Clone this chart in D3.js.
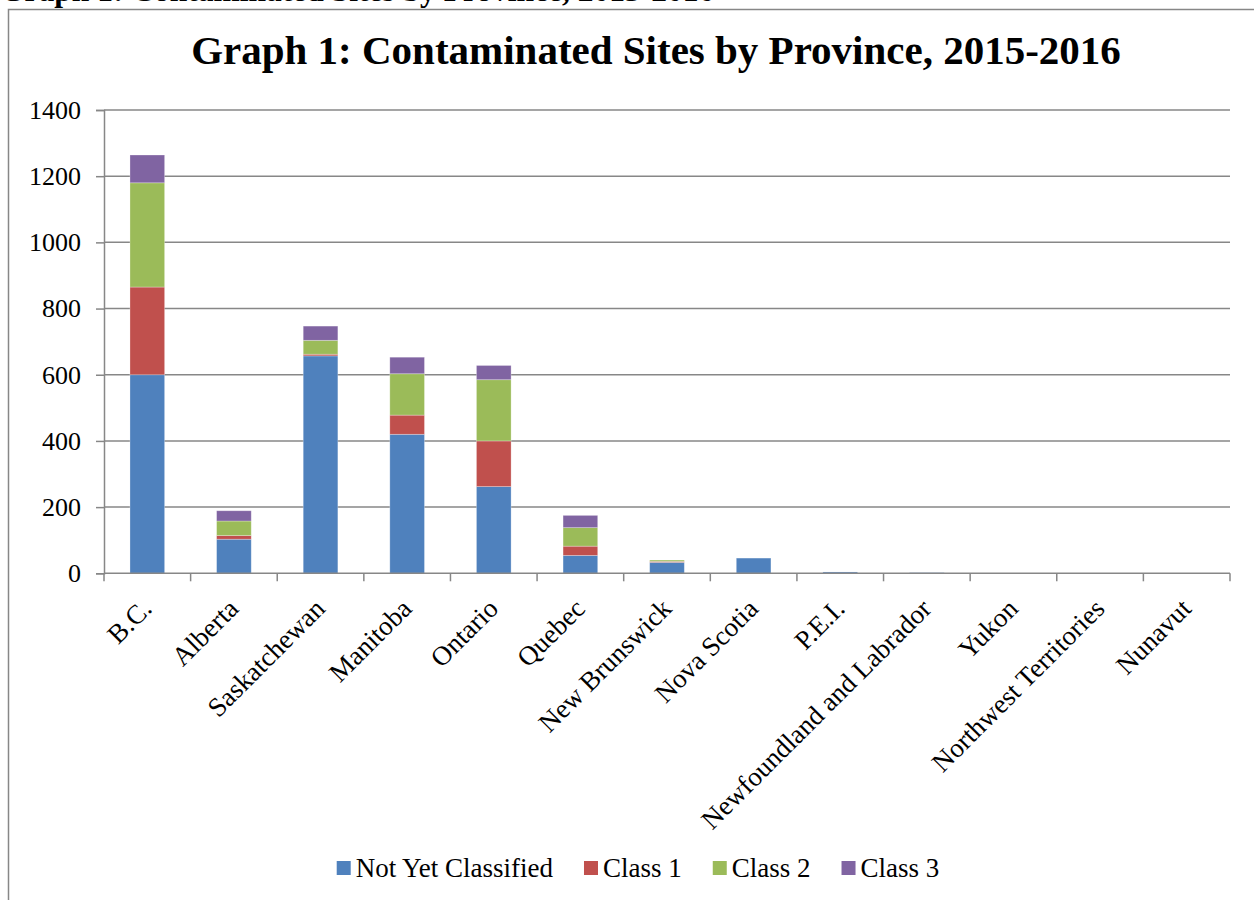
<!DOCTYPE html>
<html>
<head>
<meta charset="utf-8">
<script src="https://cdn.jsdelivr.net/npm/d3@7"></script>
<style>
  html, body { margin: 0; padding: 0; background: #fff; }
  svg { display: block; font-family: 'Liberation Serif', 'Times New Roman', serif; }
</style>
</head>
<body>
<svg id="chart"></svg>
<script>
const provinces = [
  'B.C.', 'Alberta', 'Saskatchewan', 'Manitoba', 'Ontario', 'Quebec', 'New Brunswick',
  'Nova Scotia', 'P.E.I.', 'Newfoundland and Labrador', 'Yukon', 'Northwest Territories', 'Nunavut',
]
const notYetClassified = [600, 103, 657, 420, 262, 54, 33, 46, 4, 2, 0, 0, 0]
const class1 = [265, 11, 5, 58, 138, 28, 3, 0, 0, 0, 0, 0, 0]
const class2 = [315, 44, 42, 125, 185, 56, 4, 0, 0, 0, 0, 0, 0]
const class3 = [84, 31, 43, 50, 43, 37, 0, 0, 0, 0, 0, 0, 0]
const seriesNames = ['Not Yet Classified', 'Class 1', 'Class 2', 'Class 3']
const yTicks = [0, 200, 400, 600, 800, 1000, 1200, 1400]
const title = 'Graph 1: Contaminated Sites by Province, 2015-2016'

const width = 1254
const height = 900
const colors = ['#4f81bd', '#c0504d', '#9bbb59', '#8064a2']
const gridColor = '#878787'

// plot area, in page pixels
const plot = { left: 104, right: 1230, top: 110, bottom: 573.3 }

const rows = provinces.map((name, i) => ({
  name,
  'Not Yet Classified': notYetClassified[i],
  'Class 1': class1[i],
  'Class 2': class2[i],
  'Class 3': class3[i],
}))

const svg = d3.select('#chart').attr('width', width).attr('height', height)

// page heading above the chart frame, mostly scrolled off
svg
  .append('text')
  .attr('x', 0)
  .attr('y', 1)
  .style('font-size', '31.5px')
  .style('font-weight', 'bold')
  .text(title)

// chart frame
svg
  .append('rect')
  .attr('x', 8.5)
  .attr('y', 9.5)
  .attr('width', 1270)
  .attr('height', 920)
  .attr('fill', '#fff')
  .attr('stroke', gridColor)
  .attr('stroke-width', 1.5)

svg
  .append('text')
  .attr('x', 656)
  .attr('y', 64)
  .attr('text-anchor', 'middle')
  .style('font-size', '41px')
  .style('font-weight', 'bold')
  .text(title)

const x = d3
  .scaleBand()
  .domain(provinces)
  .range([plot.left, plot.right])
  .paddingInner(0.6)
  .paddingOuter(0.3)

const y = d3.scaleLinear().domain([0, 1400]).range([plot.bottom, plot.top])

// gridlines
svg
  .append('g')
  .selectAll('line')
  .data(yTicks.slice(1))
  .join('line')
  .attr('x1', plot.left)
  .attr('x2', plot.right)
  .attr('y1', (d) => y(d))
  .attr('y2', (d) => y(d))
  .attr('stroke', gridColor)
  .attr('stroke-width', 1.5)

// y axis
const yAxis = svg
  .append('g')
  .attr('transform', `translate(${plot.left},0)`)
  .call(d3.axisLeft(y).tickValues(yTicks).tickSize(8).tickPadding(15).tickFormat(d3.format('d')))

yAxis.select('.domain').attr('stroke', gridColor).attr('stroke-width', 1.5)
yAxis.selectAll('.tick line').attr('stroke', gridColor).attr('stroke-width', 1.5)
yAxis
  .selectAll('.tick text')
  .attr('fill', '#000')
  .style('font-size', '26px')
  .style('font-family', "'Liberation Serif', 'Times New Roman', serif")

// stacked bars
const stacked = d3.stack().keys(seriesNames)(rows)

svg
  .append('g')
  .selectAll('g')
  .data(stacked)
  .join('g')
  .attr('fill', (d, i) => colors[i])
  .selectAll('rect')
  .data((d) => d)
  .join('rect')
  .attr('x', (d) => x(d.data.name))
  .attr('width', x.bandwidth())
  .attr('y', (d) => y(d[1]))
  .attr('height', (d) => y(d[0]) - y(d[1]))
  .attr('stroke', 'rgba(255,255,255,0.35)')
  .attr('stroke-width', 0.8)

// x axis: line plus ticks between categories
const xAxis = svg.append('g')

xAxis
  .append('line')
  .attr('x1', plot.left)
  .attr('x2', plot.right)
  .attr('y1', plot.bottom)
  .attr('y2', plot.bottom)
  .attr('stroke', gridColor)
  .attr('stroke-width', 1.5)

const boundaries = provinces.map((p) => x(p) - x.step() * x.paddingOuter())
boundaries.push(plot.right)

xAxis
  .selectAll('line.tick')
  .data(boundaries)
  .join('line')
  .attr('class', 'tick')
  .attr('x1', (d) => d)
  .attr('x2', (d) => d)
  .attr('y1', plot.bottom)
  .attr('y2', plot.bottom + 8)
  .attr('stroke', gridColor)
  .attr('stroke-width', 1.5)

xAxis
  .selectAll('text')
  .data(provinces)
  .join('text')
  .attr('transform', (d) => `translate(${x(d) + x.bandwidth() / 2 + 6},${plot.bottom + 37}) rotate(-45)`)
  .attr('text-anchor', 'end')
  .style('font-size', '27px')
  .text((d) => d)

// legend
const legend = svg.append('g')

const items = legend
  .selectAll('g')
  .data(seriesNames)
  .join('g')

items
  .append('rect')
  .attr('width', 14)
  .attr('height', 14)
  .attr('y', 861)
  .attr('fill', (d, i) => colors[i])

items
  .append('text')
  .attr('x', 19)
  .attr('y', 877)
  .style('font-size', '27px')
  .text((d) => d)

let offset = 0
items.each(function () {
  const g = d3.select(this)
  g.attr('transform', `translate(${offset},0)`)
  offset += 19 + g.select('text').node().getComputedTextLength() + 31
})
offset -= 31
legend.attr('transform', `translate(${638 - offset / 2},0)`)
</script>
</body>
</html>
